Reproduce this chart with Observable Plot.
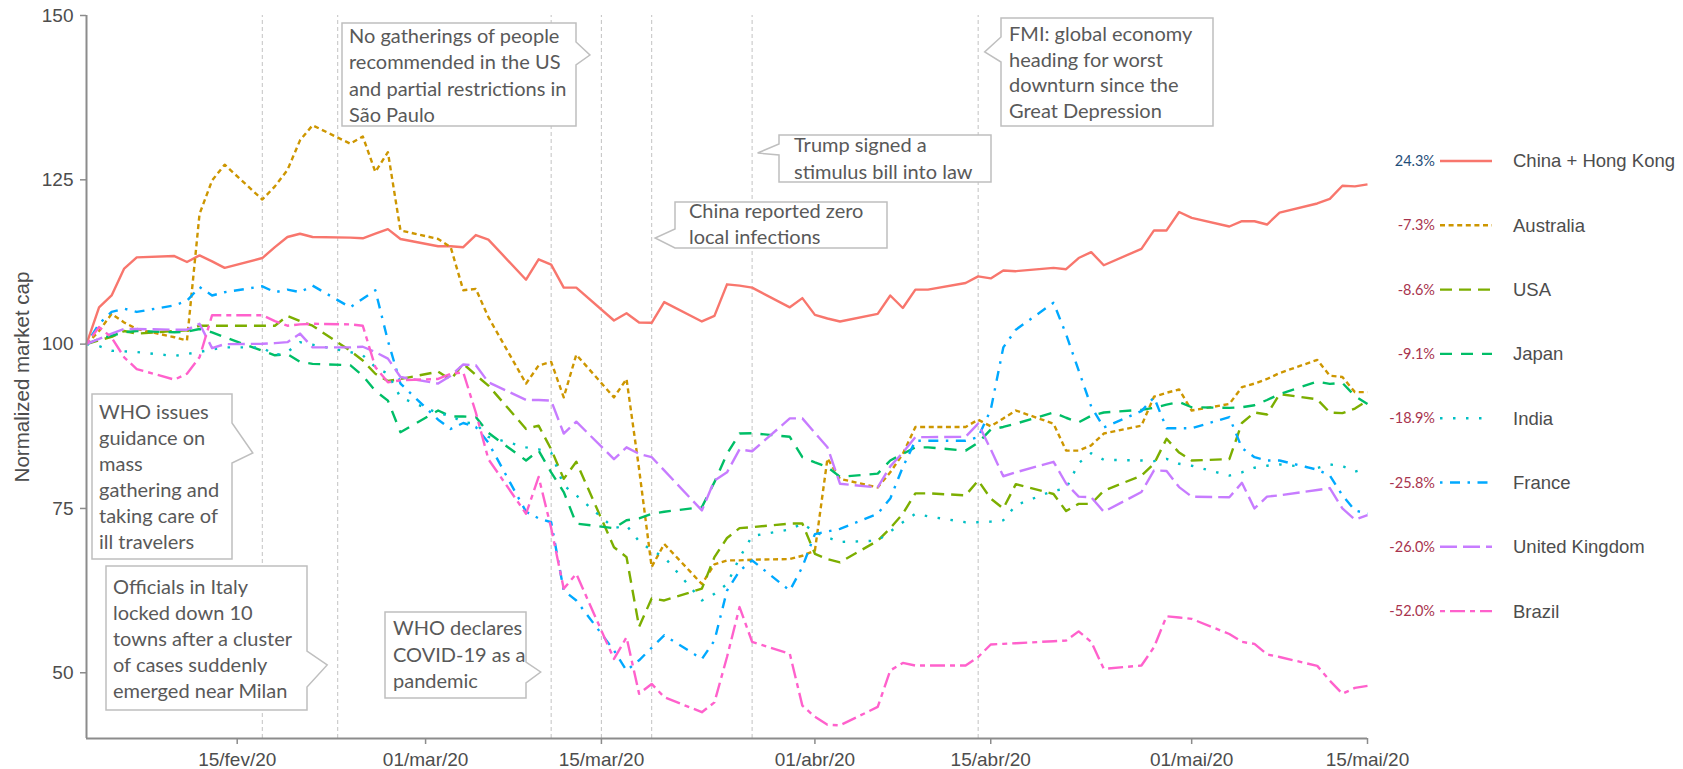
<!DOCTYPE html>
<html><head><meta charset="utf-8">
<script src="https://cdn.jsdelivr.net/npm/d3@7"></script>
<script src="https://cdn.jsdelivr.net/npm/@observablehq/plot@0.6"></script>
<style>html,body{margin:0;padding:0;background:#fff;} #chart{width:1683px;height:769px;}</style>
</head><body><div id="chart"></div>
<script>
// ---------- data ----------
const startDate = new Date(Date.UTC(2020, 1, 3));
const endDate = new Date(Date.UTC(2020, 4, 15));
// trading days (weekdays) Feb 3 – May 15, 2020
const dates = d3.utcDay.range(startDate, d3.utcDay.offset(endDate, 1))
  .filter(d => d.getUTCDay() !== 0 && d.getUTCDay() !== 6);

const countries = ["China + Hong Kong", "Australia", "USA", "Japan", "India", "France", "United Kingdom", "Brazil"];
const changeLabels = ["24.3%", "-7.3%", "-8.6%", "-9.1%", "-18.9%", "-25.8%", "-26.0%", "-52.0%"];

const chinaHK = [100,105.6,107.4,111.5,113.2, 113.4,112.5,113.5,112.6,111.6, 113.1,114.75,116.3,116.8,116.3,
  116.2,116.1,116.8,117.5,116.0, 114.9,114.9,114.75,116.6,115.9, 109.8,112.9,112.1,108.6,108.6,
  103.6,104.7,103.3,103.25,106.4, 103.45,104.3,109.1,108.9,108.6, 105.6,107.0,104.45,103.9,103.45,
  104.6,107.4,105.5,108.3,108.3, 109.3,110.3,110.0,111.2,111.1, 111.6,111.4,113.1,114.0,112.0,
  114.5,117.3,117.3,120.1,119.2, 117.9,118.7,118.7,118.2,120.0, 121.4,122.1,124.1,124.0,124.3];
const australia = [100,102.0,104.6,103.3,102.3, 101.05,100.55,119.8,124.9,127.3, 122.0,124.0,126.5,131.0,133.3,
  130.5,131.6,126.2,129.2,117.3, 116.0,114.75,108.2,108.4,104.1, 94.0,96.75,97.3,91.9,98.4,
  91.9,94.7,81.0,66.1,69.6, 63.5,66.5,67.1,67.1,67.2, 67.3,67.8,68.6,82.6,79.5,
  78.2,80.5,83.3,87.4,87.4, 87.4,88.5,87.5,88.7,89.9, 87.9,83.8,83.8,84.6,86.4,
  87.6,92.0,92.6,93.1,89.9, 90.9,93.45,94.0,94.7,95.6, 97.6,95.2,95.0,92.7,92.7];
const usa = [100,100.6,101.1,102.0,101.6, 102.0,102.1,102.8,102.8,102.8, 102.8,102.8,104.3,103.5,102.8,
  99.0,97.5,95.5,94.4,94.7, 95.8,94.6,97.0,95.3,93.7, 87.1,87.6,84.0,79.5,82.1,
  69.1,67.6,57.0,61.3,61.0, 62.8,67.6,70.5,72.0,72.15, 72.7,72.7,68.1,67.3,66.8,
  70.1,72.0,74.2,77.3,77.3, 77.0,79.25,76.5,75.0,78.7, 77.2,74.6,75.7,75.7,77.7,
  80.0,81.8,85.6,83.5,82.3, 82.5,88.0,89.6,89.3,92.4, 91.6,89.6,89.5,90.2,91.4];
const japan = [100,100.8,101.3,101.8,102.0, 101.8,101.9,102.3,101.8,101.05, 99.0,98.3,98.5,97.3,97.0,
  96.8,95.2,92.9,91.4,86.6, 89.9,89.0,89.0,88.9,86.5, 82.3,83.8,80.5,77.5,72.7,
  72.0,73.2,73.5,74.2,74.5, 75.2,79.0,83.3,86.4,86.45, 85.9,82.8,82.0,81.3,79.8,
  80.3,82.3,83.3,84.3,84.3, 83.8,85.0,87.0,87.4,87.9, 89.6,88.8,88.1,89.1,89.6,
  90.0,90.3,90.8,91.2,90.4, 90.3,90.4,90.7,91.5,92.4, 94.3,93.95,94.1,92.1,90.9];
const india = [100,99.7,99.0,98.9,98.8, 98.2,98.5,98.8,99.2,99.5, 99.5,98.3,98.8,100.3,99.9,
  98.8,98.3,96.5,95.5,91.9, 89.5,89.1,88.1,87.9,85.9, 84.3,84.0,83.5,78.5,77.0,
  72.0,72.4,70.0,68.6,67.6, 61.0,62.0,63.5,67.5,70.8, 71.8,72.7,71.4,70.6,69.9,
  70.1,71.5,72.9,74.2,73.8, 72.9,72.9,73.0,73.2,75.5, 77.7,78.0,81.9,83.4,82.4,
  82.3,82.2,82.55,81.8,81.5, 80.0,80.5,81.2,81.5,81.7, 81.15,81.7,81.45,80.6,81.1];
const france = [100,103.1,104.9,105.4,104.9, 105.9,106.6,108.7,107.4,107.9, 108.8,107.9,108.3,107.9,108.9,
  105.6,106.9,108.2,100.5,94.0, 88.5,87.1,88.0,87.4,85.0, 74.5,73.5,72.9,62.5,61.0,
  53.4,50.35,51.9,53.8,55.7, 52.1,54.9,62.5,65.5,67.1, 62.5,66.1,71.1,71.5,71.9,
  74.2,76.5,81.3,85.3,85.3, 85.3,85.85,90.0,99.5,102.2, 106.3,101.5,96.0,90.5,87.3,
  89.8,91.9,87.2,87.2,87.2, 88.9,84.2,82.8,82.3,82.3, 80.9,80.0,77.0,74.7,74.2];
const unitedKingdom = [100,100.8,101.6,102.3,102.3, 102.2,102.2,103.1,99.4,100.0, 100.05,100.15,100.3,101.6,99.5,
  99.5,99.6,98.8,97.8,95.0, 94.0,95.2,96.9,96.8,94.2, 91.5,91.5,91.4,86.4,88.2,
  82.5,84.3,83.3,82.8,80.8, 74.7,79.25,80.5,84.0,83.7, 88.7,88.7,86.5,84.3,78.75,
  78.2,81.4,83.5,85.85,85.85, 85.9,87.9,84.0,79.9,80.5, 82.1,78.8,76.8,76.7,74.5,
  77.5,80.8,80.7,78.25,76.8, 76.7,78.9,75.0,76.8,77.0, 77.8,78.1,75.0,73.3,74.0];
const brazil = [100,102.6,101.0,98.0,96.2, 94.6,95.5,98.0,104.4,104.4, 104.4,103.5,102.8,103.0,103.1,
  103.0,102.8,96.5,94.2,94.5, 94.7,95.5,95.7,89.6,82.5, 74.2,79.8,72.0,62.8,65.05,
  52.1,55.4,46.8,48.3,46.3, 44.0,45.5,52.4,60.0,54.7, 52.9,45.0,43.3,42.1,42.0,
  44.8,50.35,51.5,51.1,51.1, 51.1,52.4,54.3,54.4,54.5, 54.8,54.9,56.3,54.7,50.6,
  51.1,53.9,58.6,58.4,58.2, 55.9,54.7,54.4,52.8,52.4, 51.05,48.8,46.8,47.7,48.0];

const seriesValues = [chinaHK, australia, usa, japan, india, france, unitedKingdom, brazil];

const tickDates = [[2020,1,15],[2020,2,1],[2020,2,15],[2020,3,1],[2020,3,15],[2020,4,1],[2020,4,15]]
  .map(([y,m,d]) => new Date(Date.UTC(y,m,d)));
const tickLabels = ["15/fev/20", "01/mar/20", "15/mar/20", "01/abr/20", "15/abr/20", "01/mai/20", "15/mai/20"];
const yTicks = [50, 75, 100, 125, 150];

const eventDates = [[2020,1,17],[2020,1,23],[2020,2,11],[2020,2,15],[2020,2,19],[2020,2,27],[2020,3,14]]
  .map(([y,m,d]) => new Date(Date.UTC(y,m,d)));
const eventTexts = [
  ["WHO issues", "guidance on", "mass", "gathering and", "taking care of", "ill travelers"],
  ["Officials in Italy", "locked down 10", "towns after a cluster", "of cases suddenly", "emerged near Milan"],
  ["WHO declares", "COVID-19 as a", "pandemic"],
  ["No gatherings of people", "recommended in the US", "and partial restrictions in", "São Paulo"],
  ["China reported zero", "local infections"],
  ["Trump signed a", "stimulus bill into law"],
  ["FMI: global economy", "heading for worst", "downturn since the", "Great Depression"]
];

// ---------- styles ----------
const colors = ["#F8766D", "#CD9600", "#7CAE00", "#00BE67", "#00BFC4", "#00A9FF", "#C77CFF", "#FF61CC"];
const dashes = [null, "5 3.6", "12 7", "12 9", "2.5 10.5", "2.5 7.5 10 7.5", "17 6", "5 5 15 5"];
const LW = 2.4;
const axisGray = "#8c8c8c", textGray = "#4d4d4d";

const labelOf = new Map(tickDates.map((d, i) => [+d, tickLabels[i]]));

const lineMarks = seriesValues.map((vals, k) =>
  Plot.line(dates.map((d, i) => ({date: d, value: vals[i]})), {
    x: "date", y: "value", stroke: colors[k], strokeWidth: LW,
    strokeDasharray: dashes[k] || undefined, strokeLinecap: "butt", strokeLinejoin: "round"
  })
);

const plot = Plot.plot({
  width: 1683, height: 769,
  marginLeft: 86, marginRight: 316, marginTop: 15, marginBottom: 31,
  style: {fontFamily: "'Liberation Sans', Arial, sans-serif", fontSize: "19px", background: "#fff", overflow: "visible"},
  x: {type: "utc", domain: [startDate, endDate]},
  y: {domain: [40, 150]},
  marks: [
    Plot.ruleX(eventDates, {y1: 40, y2: 150, stroke: "#c8c8c8", strokeWidth: 1.1, strokeDasharray: "4 3"}),
    ...lineMarks,
    Plot.ruleX([startDate], {y1: 40, y2: 150, stroke: axisGray, strokeWidth: 2}),
    Plot.ruleY([40], {stroke: axisGray, strokeWidth: 2}),
    Plot.axisX(tickDates, {tickFormat: d => labelOf.get(+d), tickSize: 6, tickPadding: 8, fontSize: 19,
      stroke: axisGray, strokeWidth: 1.5, fill: textGray, label: null}),
    Plot.axisY(yTicks, {tickSize: 6, tickPadding: 7, fontSize: 19, stroke: axisGray, strokeWidth: 1.5,
      fill: textGray, label: null}),
    Plot.text(["Normalized market cap"], {frameAnchor: "left", textAnchor: "middle", dx: -64, rotate: -90,
      fontSize: 20.5, fill: textGray})
  ]
});
document.getElementById("chart").appendChild(plot);

// ---------- callouts ----------
const sx = plot.scale("x");
const svg = d3.select(plot);
// layout of each callout box (pixels)
const calloutLayout = [
  {box: [92, 394, 232, 559], side: "right", pa: 423, pb: 463, ty: 453, off: -9, b0: 419, lh: 26, tx: 99},
  {box: [106, 566, 307, 710], side: "right", pa: 651, pb: 687, ty: 665, off: -10, b0: 594, lh: 26, tx: 113},
  {box: [385, 612, 526, 698], side: "right", pa: 662, pb: 683, ty: 672, off: -10, b0: 635, lh: 26.5, tx: 393},
  {box: [342, 23, 576, 126], side: "right", pa: 42, pb: 65, ty: 55, off: -11, b0: 43, lh: 26.3, tx: 349},
  {box: [675, 202, 887, 248], side: "left", pa: 229, pb: 248, ty: 238, off: 4, b0: 218, lh: 26, tx: 689},
  {box: [779, 135, 991, 182], side: "left", pa: 144, pb: 155, ty: 153, off: 6, b0: 152, lh: 26.7, tx: 794},
  {box: [1001, 18, 1213, 126], side: "left", pa: 37, pb: 62, ty: 52, off: 7, b0: 41, lh: 25.7, tx: 1009}
];
const cg = svg.append("g").attr("text-anchor", "start");
calloutLayout.forEach((c, i) => {
  const [x0, y0, x1, y1] = c.box;
  const tipX = sx.apply(eventDates[i]) + c.off;
  let p;
  if (c.side === "right") {
    p = `M${x0},${y0}H${x1}V${c.pa}L${tipX},${c.ty}L${x1},${c.pb}V${y1}H${x0}Z`;
  } else {
    p = `M${x0},${y0}H${x1}V${y1}H${x0}V${c.pb}L${tipX},${c.ty}L${x0},${c.pa}Z`;
  }
  cg.append("path").attr("d", p).attr("fill", "#fff").attr("stroke", "#bfbfbf").attr("stroke-width", 1.5);
  eventTexts[i].forEach((t, j) => {
    cg.append("text").attr("x", c.tx).attr("y", c.b0 + j * c.lh).attr("text-anchor", "start")
      .attr("font-family", "Lato, 'Open Sans', sans-serif").attr("font-size", 20)
      .attr("fill", "#595959").text(t);
  });
});

// ---------- legend ----------
const lg = svg.append("g");
const rowY0 = 161, rowStep = 64.3;
countries.forEach((name, k) => {
  const y = rowY0 + k * rowStep;
  lg.append("text").attr("x", 1435).attr("y", y).attr("dy", "0.35em").attr("text-anchor", "end")
    .attr("font-family", "Lato, sans-serif").attr("font-size", 14.5)
    .attr("fill", changeLabels[k].startsWith("-") ? "#a8344e" : "#1f4e79").text(changeLabels[k]);
  const ln = lg.append("line").attr("x1", 1440).attr("x2", 1492).attr("y1", y).attr("y2", y)
    .attr("stroke", colors[k]).attr("stroke-width", LW).attr("stroke-linecap", "butt");
  if (dashes[k]) ln.attr("stroke-dasharray", dashes[k]);
  lg.append("text").attr("x", 1513).attr("y", y).attr("dy", "0.35em").attr("text-anchor", "start")
    .attr("font-family", "'Liberation Sans', Arial, sans-serif").attr("font-size", 18.5)
    .attr("fill", textGray).text(name);
});
</script>
</body></html>
